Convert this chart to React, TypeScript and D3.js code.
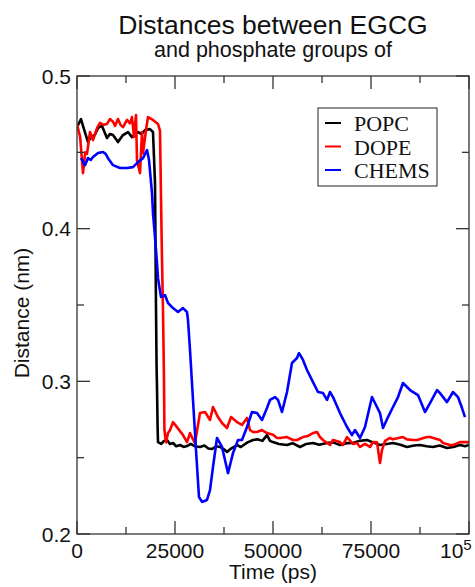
import React from "react";
import * as d3 from "d3";

const titleLines = ["Distances between EGCG", "and phosphate groups of"];
const xLabel = "Time (ps)";
const yLabel = "Distance (nm)";
const xMajorTicks = [0, 25000, 50000, 75000, 100000];
const xMinorTicks = [12500, 37500, 62500, 87500];
const yMajorTicks = [0.2, 0.3, 0.4, 0.5];
const yMinorTicks = [0.25, 0.35, 0.45];
const seriesNames = ["POPC", "DOPE", "CHEMS"];
const seriesColors = ["#000000", "#ff0000", "#0000ff"];

const popc: [number, number][] = [
  [0, 0.4665], [1020, 0.4718], [1800, 0.465], [2806, 0.4567], [3500, 0.46], [4500, 0.4613],
  [5400, 0.466], [6378, 0.4673], [7653, 0.4594], [8400, 0.462], [9184, 0.4613], [10459, 0.4567],
  [11735, 0.4613], [13010, 0.4633], [14031, 0.46], [15561, 0.4633], [16500, 0.462], [17347, 0.4646],
  [18622, 0.4652], [19388, 0.4633], [19898, 0.43], [20030, 0.388], [20153, 0.348], [20300, 0.31],
  [20408, 0.296], [20560, 0.27], [20663, 0.2602], [21500, 0.259], [22200, 0.261], [22959, 0.2616],
  [23700, 0.259], [24490, 0.2596], [25300, 0.2575], [26276, 0.2583], [27200, 0.257], [28061, 0.2576],
  [29000, 0.259], [30000, 0.2575], [31378, 0.257], [32500, 0.258], [33500, 0.256], [34439, 0.2557],
  [35500, 0.2575], [36480, 0.257], [37500, 0.2555], [38265, 0.2537], [39300, 0.256], [40816, 0.2583],
  [41800, 0.257], [42347, 0.258], [43500, 0.26], [44898, 0.2616], [46000, 0.262], [47300, 0.261],
  [48469, 0.2648], [49235, 0.261], [50000, 0.2602], [51500, 0.259], [53571, 0.2583], [55000, 0.2595],
  [56888, 0.257], [58500, 0.259], [60204, 0.2596], [61800, 0.2585], [63776, 0.2596], [65300, 0.26],
  [67092, 0.2583], [68800, 0.2595], [70408, 0.2596], [72000, 0.261], [73980, 0.2616], [75500, 0.26],
  [77296, 0.2583], [79000, 0.259], [80612, 0.2596], [82500, 0.2585], [84184, 0.257], [86000, 0.258],
  [87500, 0.2583], [89200, 0.2575], [90816, 0.257], [92500, 0.258], [94388, 0.2563], [96000, 0.257],
  [97704, 0.2583], [99000, 0.2575], [100000, 0.2583],
];

const dope: [number, number][] = [
  [0, 0.4686], [800, 0.46], [1531, 0.4364], [2100, 0.45], [2551, 0.449], [3316, 0.4633], [4082, 0.458],
  [5102, 0.4659], [5867, 0.4693], [6800, 0.468], [7653, 0.4686], [8418, 0.4718], [9184, 0.47],
  [9694, 0.4673], [10459, 0.4718], [11100, 0.468], [11735, 0.4665], [12755, 0.4712], [13500, 0.469],
  [14031, 0.4731], [14541, 0.46], [15051, 0.4744], [15306, 0.4449], [16071, 0.4364], [16582, 0.4633],
  [16837, 0.4495], [17602, 0.4646], [18112, 0.4731], [19388, 0.4712], [20663, 0.4686], [21173, 0.464],
  [21429, 0.4207], [21684, 0.3794], [21939, 0.3467], [22194, 0.3], [22300, 0.268], [22704, 0.26],
  [23214, 0.2661], [23724, 0.268], [24490, 0.2733], [25500, 0.27], [27041, 0.2648], [28061, 0.2602],
  [28827, 0.2661], [29592, 0.262], [30102, 0.2596], [31378, 0.2792], [32653, 0.2799], [33929, 0.2747],
  [34694, 0.2832], [35969, 0.2766], [36990, 0.2727], [38265, 0.2694], [39300, 0.2766], [40816, 0.2733],
  [42092, 0.2714], [43367, 0.276], [44133, 0.2681], [44898, 0.2668], [45918, 0.2668], [47194, 0.2681],
  [48469, 0.2661], [50000, 0.265], [51020, 0.2629], [51786, 0.2629], [53571, 0.2635], [55102, 0.2616],
  [56122, 0.2616], [57653, 0.2635], [58673, 0.264], [60204, 0.2661], [61224, 0.2668], [61990, 0.2635],
  [62755, 0.2616], [64541, 0.2583], [65306, 0.2616], [67092, 0.2602], [67857, 0.2583], [68878, 0.2635],
  [70408, 0.259], [71429, 0.2596], [72194, 0.257], [73469, 0.259], [74745, 0.257], [75510, 0.2602],
  [76530, 0.26], [77296, 0.2465], [77806, 0.255], [78571, 0.261], [79847, 0.2629], [80612, 0.262],
  [83163, 0.2635], [84184, 0.262], [85714, 0.2616], [86735, 0.2616], [89286, 0.2635], [90051, 0.2635],
  [92602, 0.2616], [93367, 0.2596], [95153, 0.2583], [95918, 0.2583], [97704, 0.2602], [99490, 0.2602],
  [100000, 0.26],
];

const chems: [number, number][] = [
  [1020, 0.4462], [2041, 0.4416], [2806, 0.4462], [3500, 0.445], [4082, 0.4469], [5357, 0.4495],
  [6633, 0.4502], [7300, 0.449], [7908, 0.4462], [9184, 0.4416], [10969, 0.4397], [12755, 0.4397],
  [14286, 0.4403], [15561, 0.4436], [16837, 0.4462], [17857, 0.4515], [18367, 0.4449], [19133, 0.4233],
  [19388, 0.4102], [19898, 0.3945], [20408, 0.3775], [20663, 0.3676], [21429, 0.3552], [22449, 0.3565],
  [23214, 0.3513], [24490, 0.348], [25765, 0.3454], [27041, 0.348], [28061, 0.3454], [28316, 0.3401],
  [28827, 0.3205], [29592, 0.2878], [30357, 0.255], [31122, 0.2242], [31888, 0.221], [33163, 0.2223],
  [33929, 0.2288], [34694, 0.2439], [35714, 0.2629], [36990, 0.257], [38520, 0.2399], [39796, 0.253],
  [41071, 0.2616], [42092, 0.2616], [43367, 0.2701], [44643, 0.2799], [45918, 0.2792], [47194, 0.2747],
  [48469, 0.2825], [49235, 0.2878], [50510, 0.2897], [51276, 0.2878], [52296, 0.2799], [53571, 0.293],
  [54847, 0.312], [56122, 0.3153], [56633, 0.3185], [57653, 0.314], [58673, 0.3074], [60204, 0.2995],
  [61480, 0.293], [62755, 0.2923], [63776, 0.2878], [64541, 0.293], [65306, 0.2897], [67092, 0.2792],
  [68878, 0.2701], [70153, 0.2648], [70918, 0.2681], [72194, 0.2629], [73469, 0.2701], [75255, 0.2897],
  [76020, 0.2858], [77296, 0.2792], [78061, 0.2694], [79337, 0.2766], [80612, 0.2832], [81888, 0.2897],
  [83163, 0.2989], [84949, 0.2943], [86990, 0.291], [88776, 0.2799], [90051, 0.2858], [91837, 0.2943],
  [92602, 0.2923], [94388, 0.2864], [95918, 0.293], [97194, 0.2897], [98214, 0.2825], [98980, 0.2766],
];

const allSeries = [popc, dope, chems];

const W = 475;
const H = 587;
const left = 77;
const right = 469;
const top = 76;
const bottom = 534;
const sans = "'Liberation Sans', Arial, Helvetica, sans-serif";
const serif = "'Liberation Serif', 'Times New Roman', serif";

export default function App() {
  const x = d3.scaleLinear().domain([0, 100000]).range([left, right]);
  const y = d3.scaleLinear().domain([0.2, 0.5]).range([bottom, top]);
  const line = d3
    .line<[number, number]>()
    .x((d) => x(d[0]))
    .y((d) => y(d[1]));
  const major = 13;
  const minor = 7;
  const axisColor = "#333";
  const cx = (left + right) / 2;

  return (
    <svg
      width={W}
      height={H}
      style={{ position: "absolute", left: 0, top: 0, background: "#fff" }}
    >
      <rect x={0} y={0} width={W} height={H} fill="#fff" />
      <text x={cx} y={34} textAnchor="middle" fontFamily={sans} fontSize={26.5} fill="#111">
        {titleLines[0]}
      </text>
      <text x={cx} y={57} textAnchor="middle" fontFamily={sans} fontSize={21.5} fill="#111">
        {titleLines[1]}
      </text>

      <defs>
        <clipPath id="plotclip">
          <rect x={left} y={top} width={right - left} height={bottom - top} />
        </clipPath>
      </defs>
      <g clipPath="url(#plotclip)">
        {allSeries.map((s, i) => (
          <path
            key={i}
            d={line(s) || ""}
            fill="none"
            stroke={seriesColors[i]}
            strokeWidth={2.6}
            strokeLinejoin="round"
          />
        ))}
      </g>

      <rect
        x={left}
        y={top}
        width={right - left}
        height={bottom - top}
        fill="none"
        stroke={axisColor}
        strokeWidth={1.3}
      />
      {xMajorTicks.map((t) => (
        <g key={"xm" + t}>
          <line x1={x(t)} x2={x(t)} y1={bottom} y2={bottom - major} stroke={axisColor} strokeWidth={1.3} />
          <line x1={x(t)} x2={x(t)} y1={top} y2={top + major} stroke={axisColor} strokeWidth={1.3} />
        </g>
      ))}
      {xMinorTicks.map((t) => (
        <g key={"xn" + t}>
          <line x1={x(t)} x2={x(t)} y1={bottom} y2={bottom - minor} stroke={axisColor} strokeWidth={1.3} />
          <line x1={x(t)} x2={x(t)} y1={top} y2={top + minor} stroke={axisColor} strokeWidth={1.3} />
        </g>
      ))}
      {yMajorTicks.map((t) => (
        <g key={"ym" + t}>
          <line x1={left} x2={left + major} y1={y(t)} y2={y(t)} stroke={axisColor} strokeWidth={1.3} />
          <line x1={right} x2={right - major} y1={y(t)} y2={y(t)} stroke={axisColor} strokeWidth={1.3} />
          <text
            x={left - 6}
            y={y(t)}
            dy="0.36em"
            textAnchor="end"
            fontFamily={sans}
            fontSize={21}
            fill="#111"
          >
            {t.toFixed(1)}
          </text>
        </g>
      ))}
      {yMinorTicks.map((t) => (
        <g key={"yn" + t}>
          <line x1={left} x2={left + minor} y1={y(t)} y2={y(t)} stroke={axisColor} strokeWidth={1.3} />
          <line x1={right} x2={right - minor} y1={y(t)} y2={y(t)} stroke={axisColor} strokeWidth={1.3} />
        </g>
      ))}
      {xMajorTicks.map((t) =>
        t === 100000 ? (
          <text key={"xl" + t} x={440} y={558} fontFamily={sans} fontSize={21} fill="#111">
            10
            <tspan fontSize={15} dy={-8}>
              5
            </tspan>
          </text>
        ) : (
          <text
            key={"xl" + t}
            x={x(t)}
            y={558}
            textAnchor="middle"
            fontFamily={sans}
            fontSize={21}
            fill="#111"
          >
            {String(t)}
          </text>
        )
      )}
      <text x={cx} y={579} textAnchor="middle" fontFamily={sans} fontSize={21} fill="#111">
        {xLabel}
      </text>
      <text
        transform={`translate(29, 313) rotate(-90)`}
        textAnchor="middle"
        fontFamily={sans}
        fontSize={21}
        fill="#111"
      >
        {yLabel}
      </text>

      <rect x={318} y={108} width={119} height={78} fill="#fff" stroke="#222" strokeWidth={1} />
      {seriesNames.map((n, i) => (
        <g key={n}>
          <line
            x1={325}
            x2={341}
            y1={123 + i * 23.5}
            y2={123 + i * 23.5}
            stroke={seriesColors[i]}
            strokeWidth={2}
          />
          <text x={354} y={131 + i * 23.5} fontFamily={serif} fontSize={22} fill="#111">
            {n}
          </text>
        </g>
      ))}
    </svg>
  );
}
